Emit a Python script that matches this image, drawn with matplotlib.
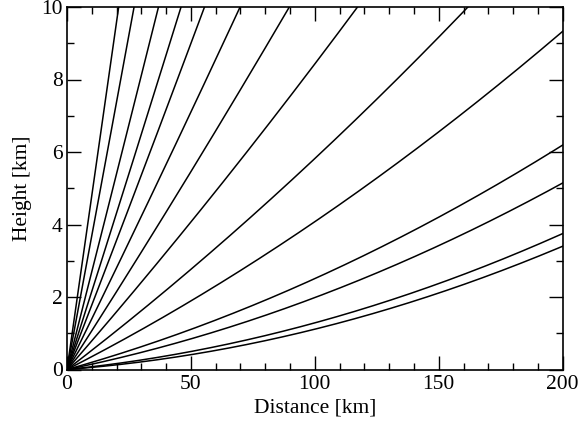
import numpy as np
import matplotlib
matplotlib.use("Agg")
import matplotlib.pyplot as plt
from matplotlib.ticker import MultipleLocator

# Elevation angles (degrees) of the beams
elevations_deg = [0.3, 0.4, 0.8, 1.1, 2.0, 3.0, 4.5, 6.1, 8.0, 10.2, 12.4, 15.6, 21.6, 28.6]
x_ticks = [0, 50, 100, 150, 200]
y_ticks = [0, 2, 4, 6, 8, 10]

# Effective earth radius (4/3 model), km
k_earth = 4.0 / 3.0 * 6371.0

plt.rcParams['font.family'] = ['Liberation Serif', 'DejaVu Serif']

fig = plt.figure(figsize=(5.87, 4.25), dpi=100)
ax = fig.add_axes([67/587, 1-369.5/425, (562.7-67)/587, (369.5-7)/425])

r = np.linspace(0, 200, 801)
for el in elevations_deg:
    th = np.deg2rad(el)
    h = np.sqrt(r**2 + k_earth**2 + 2*r*k_earth*np.sin(th)) - k_earth
    ax.plot(r, h, color='black', lw=1.1)

ax.set_xlim(0, 200)
ax.set_ylim(0, 10)
ax.set_xticks(x_ticks)
ax.set_yticks(y_ticks)
ax.xaxis.set_minor_locator(MultipleLocator(10))
ax.yaxis.set_minor_locator(MultipleLocator(1))
ax.tick_params(which='both', direction='in', top=True, right=True, labelsize=15.5, width=1.0)
ax.tick_params(which='major', length=10)
ax.tick_params(which='minor', length=5)
ax.tick_params(axis='x', pad=4)
ax.tick_params(axis='y', pad=3)
for s in ax.spines.values():
    s.set_linewidth(1.2)

ax.set_xlabel('Distance [km]', fontsize=15.5, labelpad=3.5)
ax.set_ylabel('Height [km]', fontsize=15.5, labelpad=7)

fig.savefig('out.png', dpi=100)
